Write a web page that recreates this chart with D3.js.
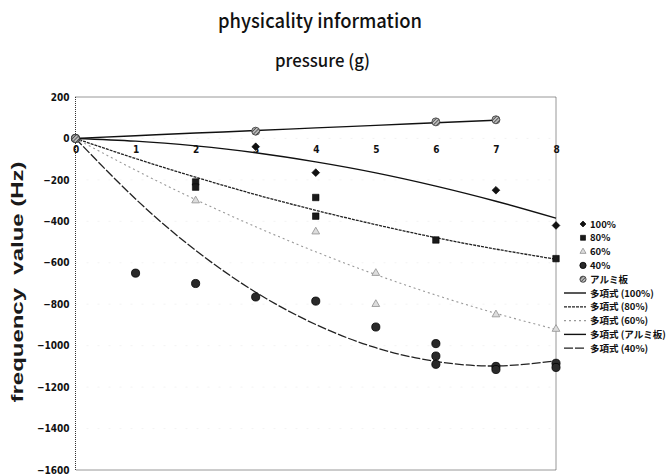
<!DOCTYPE html>
<html>
<head>
<meta charset="utf-8">
<script src="https://cdn.jsdelivr.net/npm/d3@7"></script>
<style>
  html, body { margin: 0; padding: 0; background: #fff; }
  svg { display: block; }
</style>
</head>
<body>
<svg id="chart" width="671" height="475"></svg>
<script>
// Pressure steps along the x axis and frequency ticks along the y axis
const xTicks = [0, 1, 2, 3, 4, 5, 6, 7, 8];
const yTicks = [200, 0, -200, -400, -600, -800, -1000, -1200, -1400, -1600];

// Measured frequency shifts, [pressure, value]
const pts100 = [[0, 0], [3, -40], [4, -165], [7, -250], [8, -420]];
const pts80 = [[0, 0], [2, -210], [2, -235], [4, -285], [4, -375], [6, -490], [8, -580]];
const pts60 = [[0, 0], [2, -300], [4, -450], [5, -650], [5, -800], [7, -850], [8, -920]];
const pts40 = [[0, 0], [1, -650], [2, -700], [3, -765], [4, -785], [5, -910],
               [6, -990], [6, -1050], [6, -1090], [7, -1100], [7, -1115], [8, -1085], [8, -1105]];
const ptsAl = [[0, 0], [3, 35], [6, 80], [7, 90]];

// Polynomial trend values at each integer pressure step
const trend100 = [0, -13, -36, -69, -113, -166, -230, -303, -385];
const trend80 = [0, -97, -187, -271, -347, -416, -479, -534, -583];
const trend60 = [0, -153, -295, -426, -547, -657, -756, -844, -922];
const trendAl = [0, 13, 26, 38, 51, 63, 76, 88];
const trend40 = [0, -292, -540, -742, -898, -1010, -1076, -1098, -1073];

const markerLabels = ["100%", "80%", "60%", "40%", "アルミ板"];
const trendLabels = ["多項式 (100%)", "多項式 (80%)", "多項式 (60%)", "多項式 (アルミ板)", "多項式 (40%)"];

const svg = d3.select("#chart");
const plot = { left: 75.5, right: 556, top: 97, bottom: 470 };

const x = d3.scaleLinear().domain([0, 8]).range([plot.left, plot.right]);
const y = d3.scaleLinear().domain([-1600, 200]).range([plot.bottom, plot.top]);

// hatch pattern for the aluminium plate markers
const defs = svg.append("defs");
const hatch = defs.append("pattern").attr("id", "hatch").attr("patternUnits", "userSpaceOnUse")
  .attr("width", 2.5).attr("height", 2.5).attr("patternTransform", "rotate(45)");
hatch.append("rect").attr("width", 2.5).attr("height", 2.5).attr("fill", "#bbb");
hatch.append("line").attr("x1", 0).attr("y1", 0).attr("x2", 0).attr("y2", 2.5)
  .attr("stroke", "#222").attr("stroke-width", 1.2);

// very faint horizontal gridlines
svg.append("g").selectAll("line").data(yTicks.slice(1, -1)).join("line")
  .attr("x1", plot.left).attr("x2", plot.right)
  .attr("y1", d => y(d)).attr("y2", d => y(d))
  .attr("stroke", "#f0f0f0").attr("stroke-width", 0.8).attr("stroke-dasharray", "2,9");

// dotted plot frame
svg.append("rect")
  .attr("x", plot.left).attr("y", plot.top)
  .attr("width", plot.right - plot.left).attr("height", plot.bottom - plot.top)
  .attr("fill", "none").attr("stroke", "#333").attr("stroke-width", 1)
  .attr("stroke-dasharray", "1,1");

const tickFont = "'DejaVu Sans Condensed', 'Liberation Sans Narrow', 'Liberation Sans', sans-serif";

// y axis labels
const yAxis = d3.axisLeft(y).tickValues(yTicks).tickSize(0).tickPadding(6).tickFormat(d3.format("d"));
svg.append("g").attr("transform", `translate(${plot.left},0)`).call(yAxis)
  .call(g => g.select(".domain").remove())
  .selectAll("text")
  .attr("font-family", tickFont).attr("font-size", 10).attr("font-weight", "bold").attr("fill", "#111");

// x axis labels sit just under the zero line
const xAxis = d3.axisBottom(x).tickValues(xTicks).tickSize(0).tickPadding(7).tickFormat(d3.format("d"));
svg.append("g").attr("transform", `translate(0,${y(0)})`).call(xAxis)
  .call(g => g.select(".domain").remove())
  .selectAll("text")
  .attr("font-family", tickFont).attr("font-size", 10).attr("font-weight", "bold").attr("fill", "#111");

// trend line styles
const trendStyles = [
  { data: trend100, stroke: "#111", width: 1.4, dash: null },
  { data: trend80, stroke: "#222", width: 1.3, dash: "3,1" },
  { data: trend60, stroke: "#999", width: 1.1, dash: "2,3" },
  { data: trendAl, stroke: "#111", width: 1.4, dash: null },
  { data: trend40, stroke: "#222", width: 1.3, dash: "9,2" }
];

const line = d3.line().x((d, i) => x(i)).y(d => y(d)).curve(d3.curveNatural);

svg.append("g").selectAll("path").data(trendStyles).join("path")
  .attr("d", s => line(s.data))
  .attr("fill", "none")
  .attr("stroke", s => s.stroke)
  .attr("stroke-width", s => s.width)
  .attr("stroke-dasharray", s => s.dash);

// marker styles per series (the diamond is a square turned 45 degrees)
const markerStyles = [
  { pts: pts100, type: d3.symbolSquare, rot: 45, size: 30, fill: "#111", stroke: "#000", sw: 0.6 },
  { pts: pts80, type: d3.symbolSquare, rot: 0, size: 42, fill: "#1a1a1a", stroke: "#000", sw: 0.6 },
  { pts: pts60, type: d3.symbolTriangle, rot: 0, size: 26, fill: "#ddd", stroke: "#999", sw: 0.9 },
  { pts: pts40, type: d3.symbolCircle, rot: 0, size: 52, fill: "#2a2a2a", stroke: "#000", sw: 0.8 },
  { pts: ptsAl, type: d3.symbolCircle, rot: 0, size: 50, fill: "url(#hatch)", stroke: "#444", sw: 0.9 }
];

const drawOrder = [2, 1, 0, 3, 4];
drawOrder.forEach(k => {
  const m = markerStyles[k];
  svg.append("g").selectAll("path").data(m.pts).join("path")
    .attr("transform", d => `translate(${x(d[0])},${y(d[1])}) rotate(${m.rot})`)
    .attr("d", d3.symbol().type(m.type).size(m.size))
    .attr("fill", m.fill).attr("stroke", m.stroke).attr("stroke-width", m.sw);
});

// titles
const jpFont = "'Noto Sans CJK JP', 'Noto Sans', sans-serif";
svg.append("text").attr("x", 218).attr("y", 28)
  .attr("font-family", jpFont).attr("font-size", 20).attr("font-weight", 500).attr("fill", "#111")
  .attr("textLength", 204).attr("lengthAdjust", "spacingAndGlyphs")
  .text("physicality information");
svg.append("text").attr("x", 275).attr("y", 67)
  .attr("font-family", jpFont).attr("font-size", 17).attr("font-weight", 500).attr("fill", "#111")
  .attr("textLength", 95).attr("lengthAdjust", "spacingAndGlyphs")
  .text("pressure (g)");

svg.append("text")
  .attr("transform", "translate(23,282) rotate(-90)")
  .attr("text-anchor", "middle")
  .attr("font-family", "'Liberation Sans', Arial, sans-serif").attr("font-size", 16).attr("font-weight", "bold")
  .attr("fill", "#1a1a1a").attr("textLength", 241).attr("lengthAdjust", "spacingAndGlyphs")
  .attr("xml:space", "preserve")
  .text("frequency  value (Hz)");

// legend
const legend = svg.append("g").attr("font-family", jpFont).attr("font-size", 9.5).attr("font-weight", "bold").attr("fill", "#111");
const rowStep = 13.8;
const legendTop = 224;

markerLabels.forEach((lab, i) => {
  const m = markerStyles[i];
  const cy = legendTop + i * rowStep;
  legend.append("path")
    .attr("transform", `translate(583,${cy}) rotate(${m.rot})`)
    .attr("d", d3.symbol().type(m.type).size(m.size * 0.6))
    .attr("fill", m.fill).attr("stroke", m.stroke).attr("stroke-width", m.sw);
  legend.append("text").attr("x", 590).attr("y", cy + 3.5).text(lab);
});

trendLabels.forEach((lab, i) => {
  const s = trendStyles[i];
  const cy = legendTop + (i + 5) * rowStep;
  legend.append("line").attr("x1", 564).attr("x2", 586).attr("y1", cy).attr("y2", cy)
    .attr("stroke", s.stroke).attr("stroke-width", s.width).attr("stroke-dasharray", s.dash);
  legend.append("text").attr("x", 590).attr("y", cy + 3.5).text(lab);
});
</script>
</body>
</html>
